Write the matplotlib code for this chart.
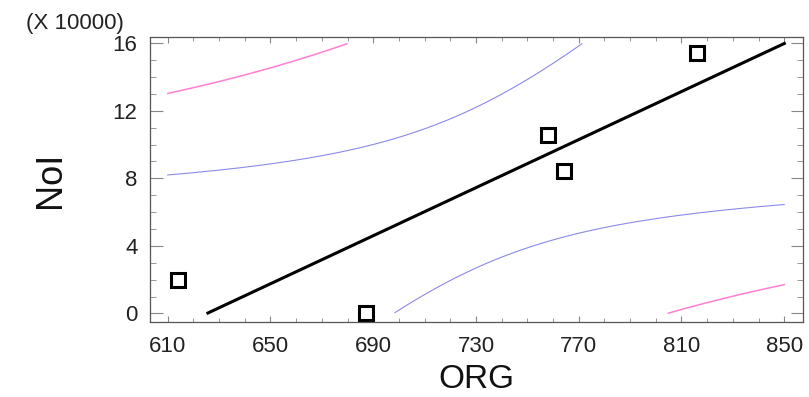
import numpy as np
import matplotlib
matplotlib.use("Agg")
import matplotlib.pyplot as plt
from matplotlib.ticker import MultipleLocator

plt.rcParams['font.family'] = ['Liberation Sans', 'DejaVu Sans']

# Data (NoI in units of 10000)
org = np.array([613.9, 687.1, 757.9, 764.3, 816.2])
noi = np.array([2.0, 0.05, 10.57, 8.45, 15.41])
t_crit = 3.182  # t(0.975, df=3)

xticks = [610, 650, 690, 730, 770, 810, 850]
yticks = [0, 4, 8, 12, 16]

# Linear regression fit
n = len(org)
xm, ym = org.mean(), noi.mean()
sxx = np.sum((org - xm) ** 2)
slope = np.sum((org - xm) * (noi - ym)) / sxx
icpt = ym - slope * xm
resid = noi - (icpt + slope * org)
s = np.sqrt(np.sum(resid ** 2) / (n - 2))

xs = np.linspace(610, 850, 400)
fit = icpt + slope * xs
se_c = s * np.sqrt(1 / n + (xs - xm) ** 2 / sxx)
se_p = s * np.sqrt(1 + 1 / n + (xs - xm) ** 2 / sxx)

def clip(y):
    y = y.copy()
    y[(y < 0) | (y > 16)] = np.nan
    return y

fig = plt.figure(figsize=(8.09, 3.97), dpi=100)
ax = fig.add_axes([150 / 809, 1 - 322 / 397, 653 / 809, 285 / 397])

pink = '#ff7fd2'
blue = '#8a8aea'
ax.plot(xs, clip(fit + t_crit * se_p), color=pink, lw=1.1)
ax.plot(xs, clip(fit - t_crit * se_p), color=pink, lw=1.1)
ax.plot(xs, clip(fit + t_crit * se_c), color=blue, lw=0.8)
ax.plot(xs, clip(fit - t_crit * se_c), color=blue, lw=0.8)
ax.plot(xs, clip(fit), color='black', lw=2.2)
ax.plot(org, noi, linestyle='none', marker='s', markersize=10,
        markerfacecolor='white', markeredgecolor='black', markeredgewidth=2.2)

ax.set_xlim(603.1, 857.3)
ax.set_ylim(-0.51, 16.37)
ax.set_xticks(xticks)
ax.set_yticks(yticks)
ax.xaxis.set_minor_locator(MultipleLocator(10))
ax.yaxis.set_minor_locator(MultipleLocator(1))
ax.tick_params(axis='both', which='both', direction='in', top=True, right=True,
               color='#888888', labelsize=16, labelcolor='#222222')
ax.tick_params(axis='x', which='major', length=4, pad=10)
ax.tick_params(axis='x', which='minor', length=3)
ax.tick_params(axis='y', which='major', length=9, pad=9)
ax.tick_params(axis='y', which='minor', length=4)
for sp in ax.spines.values():
    sp.set_color('#555555')
    sp.set_linewidth(0.9)

ax.set_xlabel('ORG', fontsize=24, color='#111111', labelpad=5)
ax.set_ylabel('NoI', fontsize=26, color='#111111', labelpad=32)
fig.text(75 / 809, 1 - 23 / 397, '(X 10000)', fontsize=16, ha='center', va='center',
         color='#222222')

fig.savefig('out.png', dpi=100)
